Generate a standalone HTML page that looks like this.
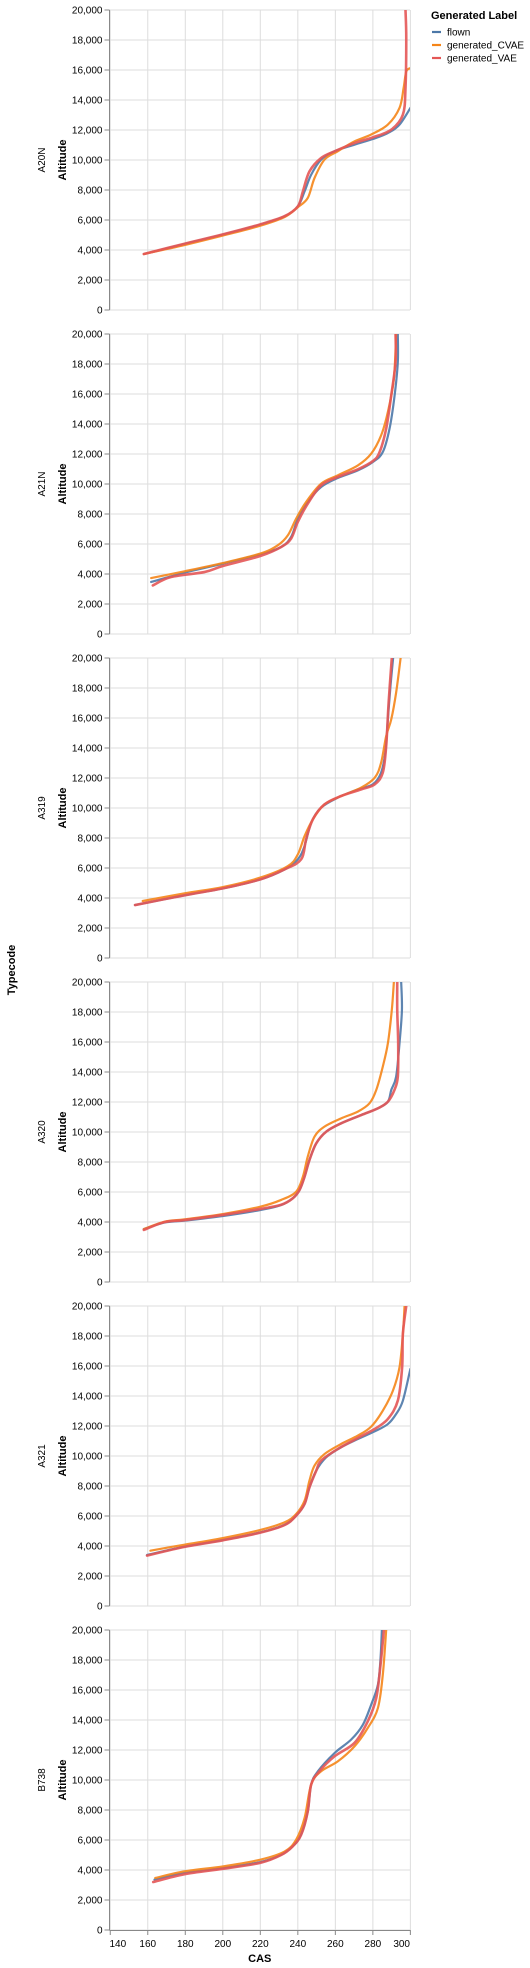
<!DOCTYPE html>
<html><head><meta charset="utf-8"><style>
body{margin:0;background:#fff;}
svg{display:block;font-family:"Liberation Sans",Arial,sans-serif;}
</style></head><body>
<svg id="chart" width="530" height="1968" xmlns="http://www.w3.org/2000/svg"></svg>
<script>
const typecodes = ["A20N","A21N","A319","A320","A321","B738"];
const seriesNames = ["flown","generated_CVAE","generated_VAE"];
const seriesColors = ["#4c78a8","#f58518","#e45756"];
const xTicks = [140,160,180,200,220,240,260,280,300];
const yTicks = [0,2000,4000,6000,8000,10000,12000,14000,16000,18000,20000];
// A20N
const a20nFlownCas = [157.9,179.6,200,220,233,240,243.6,247.1,252.4,259.6,270.2,280,288,294.2,300];
const a20nFlownAlt = [3730,4400,5020,5690,6240,6910,7910,9020,10020,10580,11020,11400,11800,12360,13470];
const a20nCvaeCas = [157.9,179.6,200,220,233,240,245.3,248.9,254.2,261.3,270.2,279,288,294.2,296.4,297.8,300];
const a20nCvaeAlt = [3730,4330,4960,5620,6200,6850,7470,8800,10020,10580,11240,11690,12360,13470,14800,15900,16130];
const a20nVaeCas = [157.9,179.6,200,220,233,240,242.7,246.2,252.4,259.6,270.2,280,289.8,296,297.4,297.8,297.4];
const a20nVaeAlt = [3730,4420,5040,5710,6260,6910,7910,9240,10130,10580,11130,11510,12020,13020,14800,18130,20000];
// A21N
const a21nFlownCas = [161.8,179.6,200,220,231.1,236.4,240,245.3,252.4,261.3,272,280,285.3,288.9,291.6,293.3,293.3];
const a21nFlownAlt = [3470,4090,4690,5310,5800,6470,7690,8800,9800,10400,10910,11470,12130,13690,15910,18130,20000];
const a21nCvaeCas = [161.8,179.6,200,220,229.3,234.7,239.1,244.4,252.4,261.3,272,279.1,284.4,288,291.2,292.4];
const a21nCvaeAlt = [3730,4180,4730,5360,5910,6580,7690,8800,10020,10580,11240,12020,13240,14800,17020,20000];
const a21nVaeCas = [162.7,172.4,190.2,200,220,231.1,236.4,240,245.3,252.4,261.3,272,280,283.6,287.1,289.8,292.1,292.1];
const a21nVaeAlt = [3240,3800,4130,4530,5200,5800,6360,7470,8690,9910,10470,10980,11530,12130,13690,15910,18130,20000];
// A319
const a319FlownCas = [153.2,179.6,200,220,233,240,243.6,247.1,252.4,261.3,272,280,284.4,286.6,288,289.4,290.8];
const a319FlownAlt = [3530,4180,4640,5240,5910,6580,7470,9020,10020,10690,11240,11580,12360,13690,15910,18130,20000];
const a319CvaeCas = [157.3,179.6,200,220,234.7,240,243.6,248,254.2,263.1,273.8,281,284.4,287.1,289.8,292.4,294.8];
const a319CvaeAlt = [3800,4310,4730,5360,6130,6910,8130,9240,10240,10800,11360,12020,13020,14800,15910,17690,20000];
const a319VaeCas = [153.2,179.6,200,220,233,241.8,244.4,248,254.2,263.1,273.8,281,285.3,287.1,288.4,290.1];
const a319VaeAlt = [3530,4180,4640,5240,5910,6580,7910,9240,10240,10800,11240,11580,12360,14130,17020,20000];
// A320
const a320FlownCas = [157.9,168.9,179.6,200,220,231.1,237.3,240.9,243.6,246.2,249.8,255.1,263.1,273.8,282.7,288,289.8,292.4,294.2,295.5,295.1];
const a320FlownAlt = [3530,3960,4090,4400,4800,5130,5580,6130,7020,8130,9240,10020,10580,11130,11580,12020,12800,13690,15910,18130,20000];
const a320CvaeCas = [157.9,168.9,179.6,200,220,231.1,239.1,242.7,245.3,248.9,254.2,263.1,272,278.2,281.8,285.3,288,290.1,291.2];
const a320CvaeAlt = [3530,4020,4180,4530,5020,5470,6020,7020,8360,9690,10360,10910,11360,11910,12800,14360,15910,18130,20000];
const a320VaeCas = [157.9,168.9,179.6,200,220,231.1,237.3,240.9,243.6,246.2,249.8,255.1,263.1,273.8,282.7,288,291.5,293.3,293.5,293,293];
const a320VaeAlt = [3470,3990,4130,4470,4870,5150,5580,6130,7020,8130,9240,10020,10580,11130,11580,12020,12800,13690,15910,18130,20000];
// A321
const a321FlownCas = [159.6,179.6,200,220,233,239.1,243.6,246.2,249.8,255.1,263.1,272,280.9,288,292.4,296,300];
const a321FlownAlt = [3400,3960,4400,4910,5420,6020,6800,7910,9020,9910,10580,11130,11640,12130,12800,13690,15800];
const a321CvaeCas = [161.4,179.6,200,220,233,239.1,243.6,246.2,248.9,254.2,263.1,272,279.1,285.3,290.7,294.2,296,296.9];
const a321CvaeAlt = [3690,4090,4530,5070,5580,6130,7020,8360,9360,10130,10800,11360,11960,13020,14360,15910,18130,20000];
const a321VaeCas = [159.6,179.6,200,220,233,239.1,243.6,246.2,249.8,252.4,261.3,272,280.9,288,293.3,295.6,296,297.8];
const a321VaeAlt = [3360,3940,4380,4890,5400,6020,6800,7910,9020,9690,10470,11200,11800,12470,13690,15910,18130,20000];
// B738
const b738FlownCas = [163.6,179.6,200,220,231.1,237.3,241.8,245.3,247.1,250.7,259.6,268.4,274.7,279.1,282.7,284.1,284.8];
const b738FlownAlt = [3360,3800,4130,4530,5020,5580,6360,7910,9690,10580,11800,12690,13690,15020,16360,18130,20000];
const b738CvaeCas = [164,179.6,200,220,233,239.1,243.6,247.1,252.4,261.3,270.2,277.3,282.7,285.3,287.1];
const b738CvaeAlt = [3470,3910,4240,4690,5240,6020,7470,9690,10580,11240,12240,13470,14800,17020,20000];
const b738VaeCas = [162.9,179.6,200,220,231.1,237.3,241.8,245.3,247.1,251.5,259.6,270.2,277.3,281.8,284.1,285.9];
const b738VaeAlt = [3200,3720,4080,4480,5000,5580,6360,7910,9690,10580,11580,12470,13910,15470,17690,20000];

const panelCas = [[a20nFlownCas,a20nCvaeCas,a20nVaeCas],[a21nFlownCas,a21nCvaeCas,a21nVaeCas],[a319FlownCas,a319CvaeCas,a319VaeCas],[a320FlownCas,a320CvaeCas,a320VaeCas],[a321FlownCas,a321CvaeCas,a321VaeCas],[b738FlownCas,b738CvaeCas,b738VaeCas]];
const panelAlt = [[a20nFlownAlt,a20nCvaeAlt,a20nVaeAlt],[a21nFlownAlt,a21nCvaeAlt,a21nVaeAlt],[a319FlownAlt,a319CvaeAlt,a319VaeAlt],[a320FlownAlt,a320CvaeAlt,a320VaeAlt],[a321FlownAlt,a321CvaeAlt,a321VaeAlt],[b738FlownAlt,b738CvaeAlt,b738VaeAlt]];

const NS="http://www.w3.org/2000/svg";
const svg=document.getElementById('chart');
const X0=109.5, W=300.5, XMIN=139.6, XMAX=299.8, H=300, TOP0=10, STEP=324;
function xs(v){return X0+(v-XMIN)/(XMAX-XMIN)*W;}
function ys(v,top){return top+H-(v/20000)*H;}
function el(tag,attrs,parent){const e=document.createElementNS(NS,tag);for(const k in attrs)e.setAttribute(k,attrs[k]);(parent||svg).appendChild(e);return e;}
function smooth(pts){let d="M"+pts[0][0].toFixed(2)+","+pts[0][1].toFixed(2);
 for(let i=0;i<pts.length-1;i++){const p0=pts[i-1]||pts[i],p1=pts[i],p2=pts[i+1],p3=pts[i+2]||p2;
  const c1=[p1[0]+(p2[0]-p0[0])/6,p1[1]+(p2[1]-p0[1])/6],c2=[p2[0]-(p3[0]-p1[0])/6,p2[1]-(p3[1]-p1[1])/6];
  d+="C"+c1[0].toFixed(2)+","+c1[1].toFixed(2)+" "+c2[0].toFixed(2)+","+c2[1].toFixed(2)+" "+p2[0].toFixed(2)+","+p2[1].toFixed(2);}
 return d;}
const defs=el('defs',{});
typecodes.forEach((tc,pi)=>{
 const top=TOP0+pi*STEP;
 const g=el('g',{});
 
 
 const cp=el('clipPath',{id:'clip'+pi},defs);
 el('rect',{x:X0,y:top,width:W,height:H},cp);
 xTicks.forEach(t=>{const gl=el('line',{x1:xs(t),x2:xs(t),y1:top,y2:top+H,stroke:'#ddd','stroke-width':1},g);
  });
 yTicks.forEach(t=>{const y=ys(t,top);
  const gl=el('line',{x1:X0,x2:X0+W,y1:y,y2:y,stroke:'#ddd','stroke-width':1},g);
  
  el('line',{x1:X0-5,x2:X0,y1:y,y2:y,stroke:'#888','stroke-width':1},g);
  const lb=el('text',{x:X0-7,y:y+3.5,'text-anchor':'end','font-size':10,fill:'#000'},g);lb.textContent=t.toLocaleString('en-US');
  });
 const ax=el('line',{x1:X0,x2:X0,y1:top,y2:top+H,stroke:'#888','stroke-width':1},g);
 
 const yt=el('text',{transform:`translate(66,${top+H/2}) rotate(-90)`,'text-anchor':'middle','font-size':11,'font-weight':'bold'},g);yt.textContent='Altitude';
 
 const rl=el('text',{transform:`translate(45,${top+H/2}) rotate(-90)`,'text-anchor':'middle','font-size':10},g);rl.textContent=tc;
 
 const lg=el('g',{'clip-path':`url(#clip${pi})`},g);
 seriesNames.forEach((s,si)=>{
  const cas=panelCas[pi][si], alt=panelAlt[pi][si];
  const pts=cas.map((c,i)=>[xs(c),ys(alt[i],top)]);
  const p=el('path',{d:smooth(pts),fill:'none',stroke:seriesColors[si],'stroke-width':si===2?2.6:2.2,'stroke-opacity':0.9,'stroke-linejoin':'round','stroke-linecap':'round'},lg);
  
  
 });
 if(pi===typecodes.length-1){
  const bx=el('line',{x1:X0,x2:X0+W,y1:top+H+0.5,y2:top+H+0.5,stroke:'#888','stroke-width':1},g);
  
  xTicks.forEach((t,i)=>{const x=xs(t);
   el('line',{x1:x,x2:x,y1:top+H,y2:top+H+5,stroke:'#888','stroke-width':1},g);
   const anchor=i===0?'start':(i===xTicks.length-1?'end':'middle');
   const lb=el('text',{x:i===0?X0:(i===xTicks.length-1?X0+W:x),y:top+H+17,'text-anchor':anchor,'font-size':10},g);lb.textContent=t;
   });
  const xt=el('text',{x:X0+W/2,y:top+H+32,'text-anchor':'middle','font-size':11,'font-weight':'bold'},g);xt.textContent='CAS';
  
 }
});
const tt=el('text',{transform:'translate(15,970) rotate(-90)','text-anchor':'middle','font-size':11,'font-weight':'bold'});tt.textContent='Typecode';

const leg=el('g',{});

const lt=el('text',{x:431,y:19,'font-size':11,'font-weight':'bold'},leg);lt.textContent='Generated Label';

seriesNames.forEach((s,i)=>{const y=32+i*13;
 const eg=el('g',{},leg);
 
 el('line',{x1:432,x2:441,y1:y,y2:y,stroke:seriesColors[i],'stroke-width':2.2},eg);
 const t=el('text',{x:447,y:y+3.5,'font-size':10},eg);t.textContent=s;});
</script>
</body></html>
